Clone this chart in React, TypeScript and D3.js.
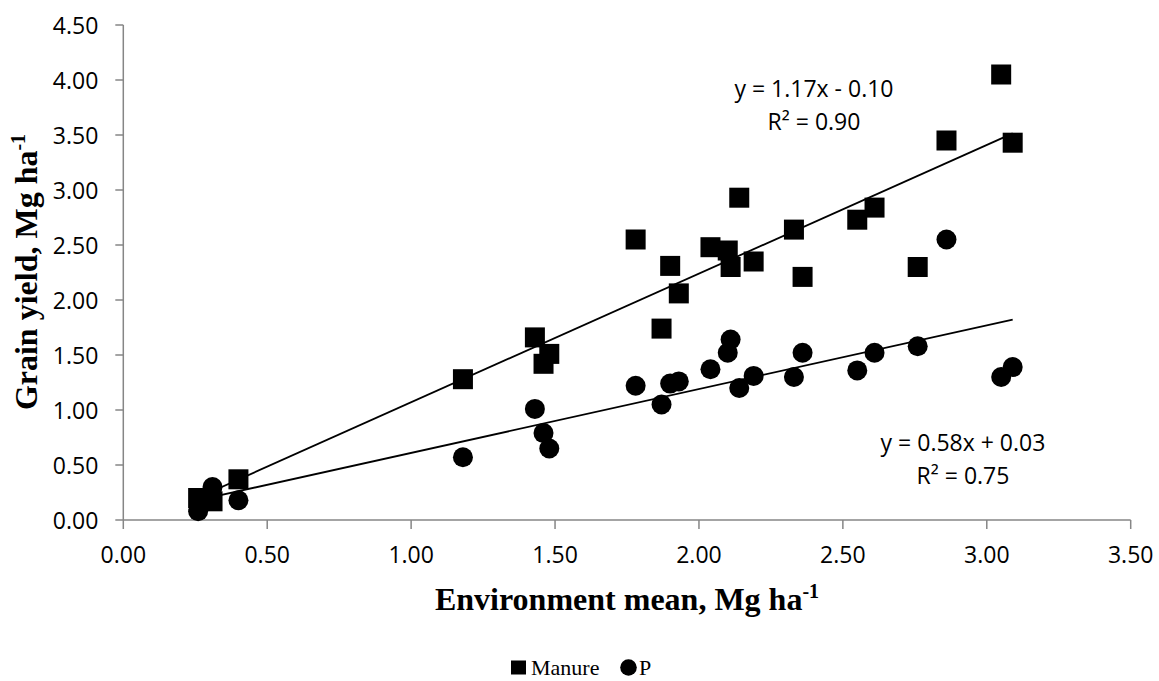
import React, { useEffect, useRef } from "react";
import * as d3 from "d3";

// environment means (x) and yields of the two treatments
const envMean = [0.26, 0.31, 0.4, 1.18, 1.43, 1.46, 1.48, 1.78, 1.87, 1.9, 1.93, 2.04, 2.1, 2.11, 2.14, 2.19, 2.33, 2.36, 2.55, 2.61, 2.76, 2.86, 3.05, 3.09];
const manureYield = [0.2, 0.17, 0.37, 1.28, 1.66, 1.42, 1.51, 2.55, 1.74, 2.31, 2.06, 2.48, 2.45, 2.3, 2.93, 2.35, 2.64, 2.21, 2.73, 2.84, 2.3, 3.45, 4.05, 3.43];
const pYield = [0.08, 0.3, 0.18, 0.57, 1.01, 0.79, 0.65, 1.22, 1.05, 1.24, 1.26, 1.37, 1.52, 1.64, 1.2, 1.31, 1.3, 1.52, 1.36, 1.52, 1.58, 2.55, 1.3, 1.39];

// trendline coefficients [slope, intercept]
const manureFit = [1.17, -0.1];
const pFit = [0.58, 0.03];
const manureLabel = ["y = 1.17x - 0.10", "R² = 0.90"];
const pLabel = ["y = 0.58x + 0.03", "R² = 0.75"];

const xTicks = [0, 0.5, 1, 1.5, 2, 2.5, 3, 3.5];
const yTicks = [0, 0.5, 1, 1.5, 2, 2.5, 3, 3.5, 4, 4.5];

const App = () => {
  const ref = useRef<SVGSVGElement>(null);

  useEffect(() => {
    document.body.style.margin = "0";
    const svg = d3.select(ref.current);
    svg.selectAll("*").remove();

    const x = d3.scaleLinear().domain([0, 3.5]).range([123.3, 1130.7]);
    const y = d3.scaleLinear().domain([0, 4.5]).range([520, 25]);
    const fmt = d3.format(".2f");
    const axisColor = "#868686";
    const numFont = "'Open Sans', sans-serif";
    const serif = "'Liberation Serif', 'Times New Roman', serif";

    // axes
    const gx = svg.append("g").attr("transform", `translate(0,${y(0)})`);
    gx.append("line").attr("x1", x(0)).attr("x2", x(3.5)).attr("stroke", axisColor).attr("stroke-width", 1.5);
    xTicks.forEach((t) => {
      gx.append("line").attr("x1", x(t)).attr("x2", x(t)).attr("y1", 0).attr("y2", 9)
        .attr("stroke", axisColor).attr("stroke-width", 1.5);
      gx.append("text").attr("x", x(t)).attr("y", 43).attr("text-anchor", "middle")
        .attr("font-family", numFont).attr("font-size", 23).text(fmt(t));
    });

    const gy = svg.append("g").attr("transform", `translate(${x(0)},0)`);
    gy.append("line").attr("y1", y(0)).attr("y2", y(4.5)).attr("stroke", axisColor).attr("stroke-width", 1.5);
    yTicks.forEach((t) => {
      gy.append("line").attr("x1", -8).attr("x2", 0).attr("y1", y(t)).attr("y2", y(t))
        .attr("stroke", axisColor).attr("stroke-width", 1.5);
      gy.append("text").attr("x", -25).attr("y", y(t) + 8.5).attr("text-anchor", "end")
        .attr("font-family", numFont).attr("font-size", 23).text(fmt(t));
    });

    // markers
    svg.append("g").selectAll("rect").data(envMean).enter().append("rect")
      .attr("x", (d) => x(d) - 10)
      .attr("y", (d, i) => y(manureYield[i]) - 10)
      .attr("width", 20).attr("height", 20).attr("fill", "#000");

    svg.append("g").selectAll("circle").data(envMean).enter().append("circle")
      .attr("cx", (d) => x(d))
      .attr("cy", (d, i) => y(pYield[i]))
      .attr("r", 10).attr("fill", "#000");

    // trendlines
    const [xmin, xmax] = d3.extent(envMean) as [number, number];
    const line = d3.line<number[]>().x((d) => x(d[0])).y((d) => y(d[1]));
    [manureFit, pFit].forEach(([m, b]) => {
      svg.append("path")
        .attr("d", line([[xmin, m * xmin + b], [xmax, m * xmax + b]]))
        .attr("stroke", "#000").attr("stroke-width", 1.8).attr("fill", "none");
    });

    // equation labels
    const addLabel = (lines: string[], cx: number, by: number) => {
      lines.forEach((s, i) => {
        svg.append("text").attr("x", cx).attr("y", by + i * 33).attr("text-anchor", "middle")
          .attr("font-family", numFont).attr("font-size", 23).text(s);
      });
    };
    addLabel(manureLabel, 814, 97);
    addLabel(pLabel, 963, 451);

    // axis titles
    const xt = svg.append("text").attr("x", 627).attr("y", 610).attr("text-anchor", "middle")
      .attr("font-family", serif).attr("font-weight", "bold").attr("font-size", 32);
    xt.append("tspan").text("Environment mean, Mg ha");
    xt.append("tspan").attr("font-size", 20).attr("dy", -12).text("-1");

    const yt = svg.append("text").attr("transform", "translate(37,272) rotate(-90)")
      .attr("text-anchor", "middle")
      .attr("font-family", serif).attr("font-weight", "bold").attr("font-size", 32);
    yt.append("tspan").text("Grain yield, Mg ha");
    yt.append("tspan").attr("font-size", 20).attr("dy", -12).text("-1");

    // legend
    const lg = svg.append("g").attr("transform", "translate(0,-4)");
    lg.append("rect").attr("x", 511).attr("y", 664.5).attr("width", 15).attr("height", 14).attr("fill", "#000");
    lg.append("text").attr("x", 531).attr("y", 679).attr("font-family", serif).attr("font-size", 22).text("Manure");
    lg.append("circle").attr("cx", 628.5).attr("cy", 671.5).attr("r", 8.3).attr("fill", "#000");
    lg.append("text").attr("x", 639).attr("y", 679).attr("font-family", serif).attr("font-size", 22).text("P");
  }, []);

  return <svg ref={ref} width={1159} height={681} style={{ display: "block" }} />;
};

export default App;
